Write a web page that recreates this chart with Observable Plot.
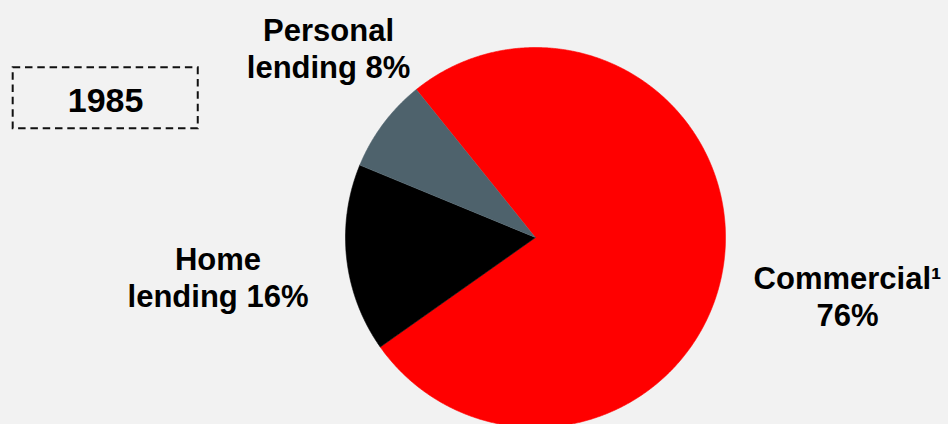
<!DOCTYPE html>
<html>
<head>
<meta charset="utf-8">
<script src="https://cdn.jsdelivr.net/npm/d3@7"></script>
<script src="https://cdn.jsdelivr.net/npm/@observablehq/plot@0.6"></script>
<style>
  html, body { margin: 0; padding: 0; background: #f2f2f2; }
  #chart { width: 948px; height: 424px; overflow: hidden; }
</style>
</head>
<body>
<div id="chart"></div>
<script>
// ---- Data ----
const categories = ["Commercial", "Home lending", "Personal lending"];
const shares = [76, 16, 8];
const sliceColors = ["#ff0000", "#000000", "#4e626c"];
const labelTexts = ["Commercial¹\n76%", "Home\nlending 16%", "Personal\nlending 8%"];
const yearLabel = "1985";

// ---- Layout (in radius units, pie centred at 0,0) ----
const W = 948, H = 424;
const R = 190, CX = 535, CY = 237;           // pixel centre and radius
const startDeg = -38.8;
const labelPos = [[1.642, -0.308], [-1.671, -0.208], [-1.089, 0.997]];
const boxPos = {x1: -2.749, x2: -1.775, y1: 0.572, y2: 0.893};
const yearPos = [-2.263, 0.716];

// ---- Pie geometry from data ----
const start = startDeg * Math.PI / 180;
const arcs = d3.pie().sort(null).startAngle(start).endAngle(start + 2 * Math.PI)(shares);
const poly = [];
arcs.forEach((a, i) => {
  const name = categories[i];
  poly.push({name, x: 0, y: 0});
  const n = Math.max(8, Math.ceil((a.endAngle - a.startAngle) / 0.005));
  for (let k = 0; k <= n; k++) {
    const t = a.startAngle + (a.endAngle - a.startAngle) * k / n;
    poly.push({name, x: Math.sin(t), y: Math.cos(t)});
  }
});
const labels = categories.map((c, i) => ({name: c, text: labelTexts[i], x: labelPos[i][0], y: labelPos[i][1]}));

const font = "'Liberation Sans', Arial, Helvetica, sans-serif";

const chart = Plot.plot({
  width: W, height: H,
  margin: 0,
  style: {background: "#f2f2f2", fontFamily: font},
  x: {domain: [-CX / R, (W - CX) / R], axis: null},
  y: {domain: [(CY - H) / R, CY / R], axis: null},
  color: {domain: categories, range: sliceColors},
  marks: [
    Plot.line(poly, {x: "x", y: "y", z: "name", fill: "name", stroke: "name", strokeWidth: 0.6, curve: "linear"}),
    Plot.text(labels, {x: "x", y: "y", text: "text", fontSize: 31, fontWeight: "bold", fill: "black",
      textAnchor: "middle", lineAnchor: "middle", lineHeight: 1.19, fontFamily: font}),
    Plot.rect([boxPos], {x1: "x1", x2: "x2", y1: "y1", y2: "y2", fill: "none", stroke: "#111",
      strokeWidth: 2, strokeDasharray: "7.5,4.8"}),
    Plot.text([{t: yearLabel, x: yearPos[0], y: yearPos[1]}], {x: "x", y: "y", text: "t", fontSize: 34,
      fontWeight: "bold", fill: "black", textAnchor: "middle", lineAnchor: "middle", fontFamily: font})
  ]
});
document.getElementById("chart").appendChild(chart);
</script>
</body>
</html>
